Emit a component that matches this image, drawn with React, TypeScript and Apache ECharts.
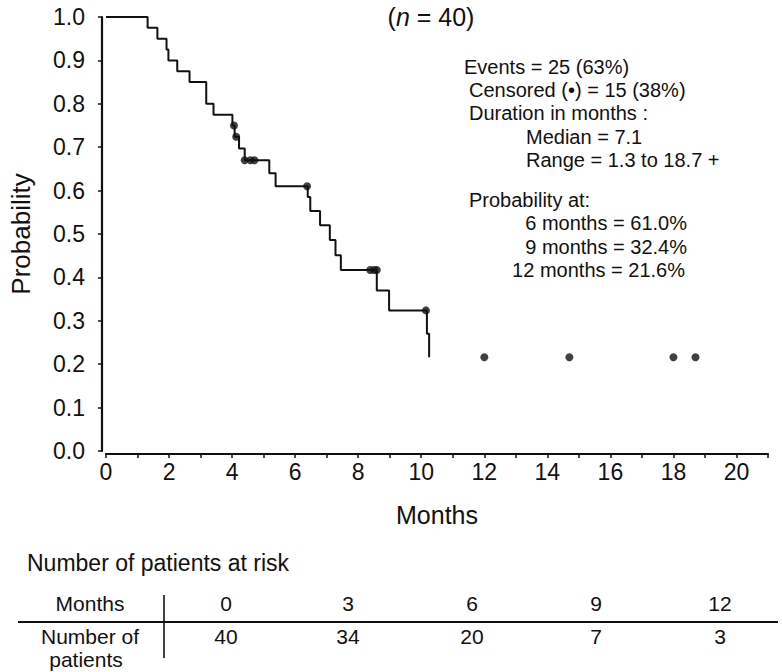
import React, { useEffect, useRef } from "react";
import * as echarts from "echarts";

// Kaplan-Meier step curve: month of each drop and the survival level after it
const eventMonths = [1.32, 1.63, 1.92, 1.98, 2.26, 2.65, 3.18, 3.41, 4.01, 4.08, 4.22, 4.4, 5.18, 5.38, 6.4, 6.48, 6.79, 7.1, 7.28, 7.45, 8.59, 8.98, 10.18, 10.25];
const survivalAfter = [0.975, 0.95, 0.925, 0.9, 0.875, 0.85, 0.8, 0.775, 0.75, 0.724, 0.697, 0.67, 0.64, 0.61, 0.585, 0.553, 0.52, 0.486, 0.451, 0.417, 0.37, 0.324, 0.27, 0.216];

// Censored observations
const censorMonths = [4.06, 4.13, 4.4, 4.58, 4.71, 6.38, 8.38, 8.51, 8.59, 10.15, 12.0, 14.7, 18.0, 18.7];
const censorProb = [0.75, 0.724, 0.67, 0.67, 0.67, 0.61, 0.417, 0.417, 0.417, 0.324, 0.216, 0.216, 0.216, 0.216];

// Number at risk table
const riskMonths = ["0", "3", "6", "9", "12"];
const riskCounts = ["40", "34", "20", "7", "3"];

// Summary texts
const summaryLeft = [
  "Events = 25 (63%)",
  "Censored (•) = 15 (38%)",
  "Duration in months :",
  "Median = 7.1",
  "Range = 1.3 to 18.7 +",
  "Probability at:",
];
const summaryRight = ["6 months = 61.0%", "9 months = 32.4%", "12 months = 21.6%"];

const FONT = "Liberation Sans, Arial, Helvetica, sans-serif";
const INK = "#111111";

export default function App() {
  const ref = useRef<HTMLDivElement>(null);

  useEffect(() => {
    if (!ref.current) return;
    const chart = echarts.init(ref.current, undefined, { renderer: "svg" });

    const curve: number[][] = [[0, 1]];
    eventMonths.forEach((m, i) => curve.push([m, survivalAfter[i]]));
    const censored = censorMonths.map((m, i) => [m, censorProb[i]]);

    const leftX = [464, 469, 469, 526, 526, 469];
    const leftY = [67, 90, 113, 137, 160, 200];
    const rightX = [687, 687, 685];
    const rightY = [223, 247, 270];
    const colX = [226, 348, 472, 596, 720];

    const txt = (t: string, x: number, y: number, size: number, align: string) => ({
      type: "text",
      x,
      y,
      style: { text: t, fontFamily: FONT, fontSize: size, fill: INK, align, verticalAlign: "middle" },
    });

    const graphics: any[] = [
      {
        type: "text",
        x: 431,
        y: 17,
        style: {
          text: "{p|(}{i|n}{p| = 40)}",
          align: "center",
          verticalAlign: "middle",
          rich: {
            p: { fontFamily: FONT, fontSize: 25, fill: INK },
            i: { fontFamily: FONT, fontSize: 25, fontStyle: "italic", fill: INK },
          },
        },
      },
      ...summaryLeft.map((t, i) => txt(t, leftX[i], leftY[i], 20, "left")),
      ...summaryRight.map((t, i) => txt(t, rightX[i], rightY[i], 20, "right")),
      txt("Number of patients at risk", 27, 563, 23, "left"),
      txt("Months", 90, 603, 21, "center"),
      txt("Number of", 90, 636, 21, "center"),
      txt("patients", 86, 659, 21, "center"),
      ...riskMonths.map((t, i) => txt(t, colX[i], 603, 21, "center")),
      ...riskCounts.map((t, i) => txt(t, colX[i], 636, 21, "center")),
      {
        type: "line",
        shape: { x1: 18, y1: 622, x2: 778, y2: 622 },
        style: { stroke: INK, lineWidth: 2.2 },
      },
      {
        type: "line",
        shape: { x1: 164, y1: 595, x2: 164, y2: 658 },
        style: { stroke: INK, lineWidth: 1.6 },
      },
    ];

    chart.setOption({
      animation: false,
      backgroundColor: "#ffffff",
      grid: { left: 96, top: 17, width: 672, height: 434 },
      xAxis: {
        type: "value",
        min: 0,
        max: 21,
        interval: 1,
        offset: 3,
        name: "Months",
        nameLocation: "middle",
        nameGap: 48,
        nameTextStyle: { fontFamily: FONT, fontSize: 25, color: INK },
        axisLine: { show: true, onZero: false, lineStyle: { color: INK, width: 2.2 } },
        axisTick: { show: true, length: 4, lineStyle: { color: INK, width: 1.5 } },
        axisLabel: {
          fontFamily: FONT,
          fontSize: 23,
          color: INK,
          margin: 6,
          formatter: (v: number) => (v % 2 === 0 && v <= 20 ? String(v) : ""),
        },
        splitLine: { show: false },
      },
      yAxis: {
        type: "value",
        min: 0,
        max: 1,
        interval: 0.1,
        offset: 4,
        name: "Probability",
        nameLocation: "middle",
        nameGap: 68,
        nameTextStyle: { fontFamily: FONT, fontSize: 26, color: INK },
        axisLine: { show: true, onZero: false, lineStyle: { color: INK, width: 2.2 } },
        axisTick: { show: true, length: 4, lineStyle: { color: INK, width: 1.5 } },
        axisLabel: {
          fontFamily: FONT,
          fontSize: 23,
          color: INK,
          margin: 17,
          formatter: (v: number) => v.toFixed(1),
        },
        splitLine: { show: false },
      },
      series: [
        {
          type: "line",
          data: curve,
          step: "end",
          symbol: "none",
          lineStyle: { color: INK, width: 2 },
          z: 2,
        },
        {
          type: "scatter",
          data: censored,
          symbol: "circle",
          symbolSize: 8,
          itemStyle: { color: INK },
          z: 3,
        },
      ],
      graphic: graphics,
    });

    return () => chart.dispose();
  }, []);

  return <div ref={ref} style={{ width: 782, height: 672, position: "absolute", left: 0, top: 0 }} />;
}
